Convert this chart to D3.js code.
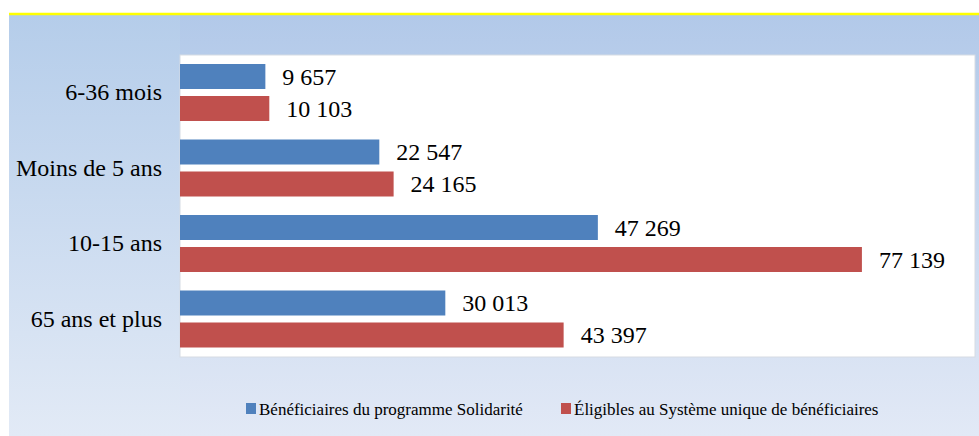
<!DOCTYPE html>
<html>
<head>
<meta charset="utf-8">
<script src="https://cdn.jsdelivr.net/npm/d3@7"></script>
<style>
  body { margin: 0; background: #fff; }
</style>
</head>
<body>
<svg class="svgChart"></svg>
<script>
// data
var categories = ["6-36 mois", "Moins de 5 ans", "10-15 ans", "65 ans et plus"];
var seriesNames = ["Bénéficiaires du programme Solidarité", "Éligibles au Système unique de bénéficiaires"];
var solidarite = [9657, 22547, 47269, 30013];
var eligibles = [10103, 24165, 77139, 43397];
var colors = ["#4f81bd", "#c0504d"];

var serif = "'Liberation Serif'";

var W = 979, H = 436;
var plot = { left: 180, right: 975, top: 55, bottom: 357 };

var svg = d3.select('.svgChart')
  .attr('width', W)
  .attr('height', H);

var defs = svg.append('defs');
var grad = defs.append('linearGradient')
  .attr('id', 'bg')
  .attr('x1', 0).attr('y1', 0).attr('x2', 0).attr('y2', 1);
grad.append('stop').attr('offset', '0%').attr('stop-color', '#b2c9e9');
grad.append('stop').attr('offset', '100%').attr('stop-color', '#e2e9f6');

var gradL = defs.append('linearGradient')
  .attr('id', 'bgLeft')
  .attr('x1', 0).attr('y1', 0).attr('x2', 0).attr('y2', 1);
gradL.append('stop').attr('offset', '0%').attr('stop-color', '#b5cdea');
gradL.append('stop').attr('offset', '100%').attr('stop-color', '#e2eaf6');

// background
svg.append('rect')
  .attr('x', 9).attr('y', 15)
  .attr('width', W - 9).attr('height', H - 15)
  .attr('fill', 'url(#bg)');
svg.append('rect')
  .attr('x', 9).attr('y', 15)
  .attr('width', plot.left - 9).attr('height', H - 15)
  .attr('fill', 'url(#bgLeft)');

// yellow top line
svg.append('line')
  .attr('x1', 9).attr('x2', W)
  .attr('y1', 14).attr('y2', 14)
  .attr('stroke', '#ffff00')
  .attr('stroke-width', 2.5);

// plot area
svg.append('rect')
  .attr('x', plot.left).attr('y', plot.top)
  .attr('width', plot.right - plot.left)
  .attr('height', plot.bottom - plot.top)
  .attr('fill', '#fff')
  .attr('stroke', '#d6dbe3')
  .attr('stroke-width', 1);

var xScale = d3.scaleLinear()
  .domain([0, 90000])
  .range([plot.left, plot.left + 795.6]);

var yScale = d3.scaleBand()
  .domain(categories)
  .range([plot.top, plot.bottom]);

var inner = d3.scaleBand()
  .domain([0, 1])
  .range([9, 66])
  .paddingInner(7 / 32);

var rows = categories.map(function(c, i) {
  return { cat: c, vals: [solidarite[i], eligibles[i]] };
});

var fmt = function(v) {
  return d3.format(',')(v).replace(/,/g, ' ');
};

var groups = svg.append('g')
  .selectAll('g')
  .data(rows)
  .enter()
  .append('g')
    .attr('transform', d => 'translate(0,' + yScale(d.cat) + ')');

groups.selectAll('rect')
  .data(d => d.vals)
  .enter()
  .append('rect')
    .attr('x', xScale(0))
    .attr('y', (d, i) => inner(i))
    .attr('width', d => xScale(d) - xScale(0))
    .attr('height', inner.bandwidth())
    .attr('fill', (d, i) => colors[i]);

groups.selectAll('text.val')
  .data(d => d.vals)
  .enter()
  .append('text')
    .attr('class', 'val')
    .attr('x', d => xScale(d) + 17)
    .attr('y', (d, i) => inner(i) + inner.bandwidth() / 2)
    .attr('dy', '0.35em')
    .style('font-family', serif)
    .style('font-size', '24px')
    .attr('fill', '#000')
    .text(fmt);

// category axis labels
var yAxis = d3.axisLeft(yScale).tickSize(0).tickPadding(18);
var ax = svg.append('g')
  .attr('transform', 'translate(' + plot.left + ',0)')
  .call(yAxis);
ax.select('.domain').remove();
ax.selectAll('text')
  .style('font-family', serif)
  .style('font-size', '24px')
  .attr('fill', '#000');

// legend
var legendX = [246, 561];
var legend = svg.append('g')
  .selectAll('g')
  .data(seriesNames)
  .enter()
  .append('g')
    .attr('transform', (d, i) => 'translate(' + legendX[i] + ',403)');

legend.append('rect')
  .attr('width', 10)
  .attr('height', 11)
  .attr('fill', (d, i) => colors[i]);

legend.append('text')
  .attr('x', 13)
  .attr('y', 6)
  .attr('dy', '0.35em')
  .style('font-family', serif)
  .style('font-size', '17px')
  .attr('fill', '#000')
  .text(d => d);
</script>
</body>
</html>
